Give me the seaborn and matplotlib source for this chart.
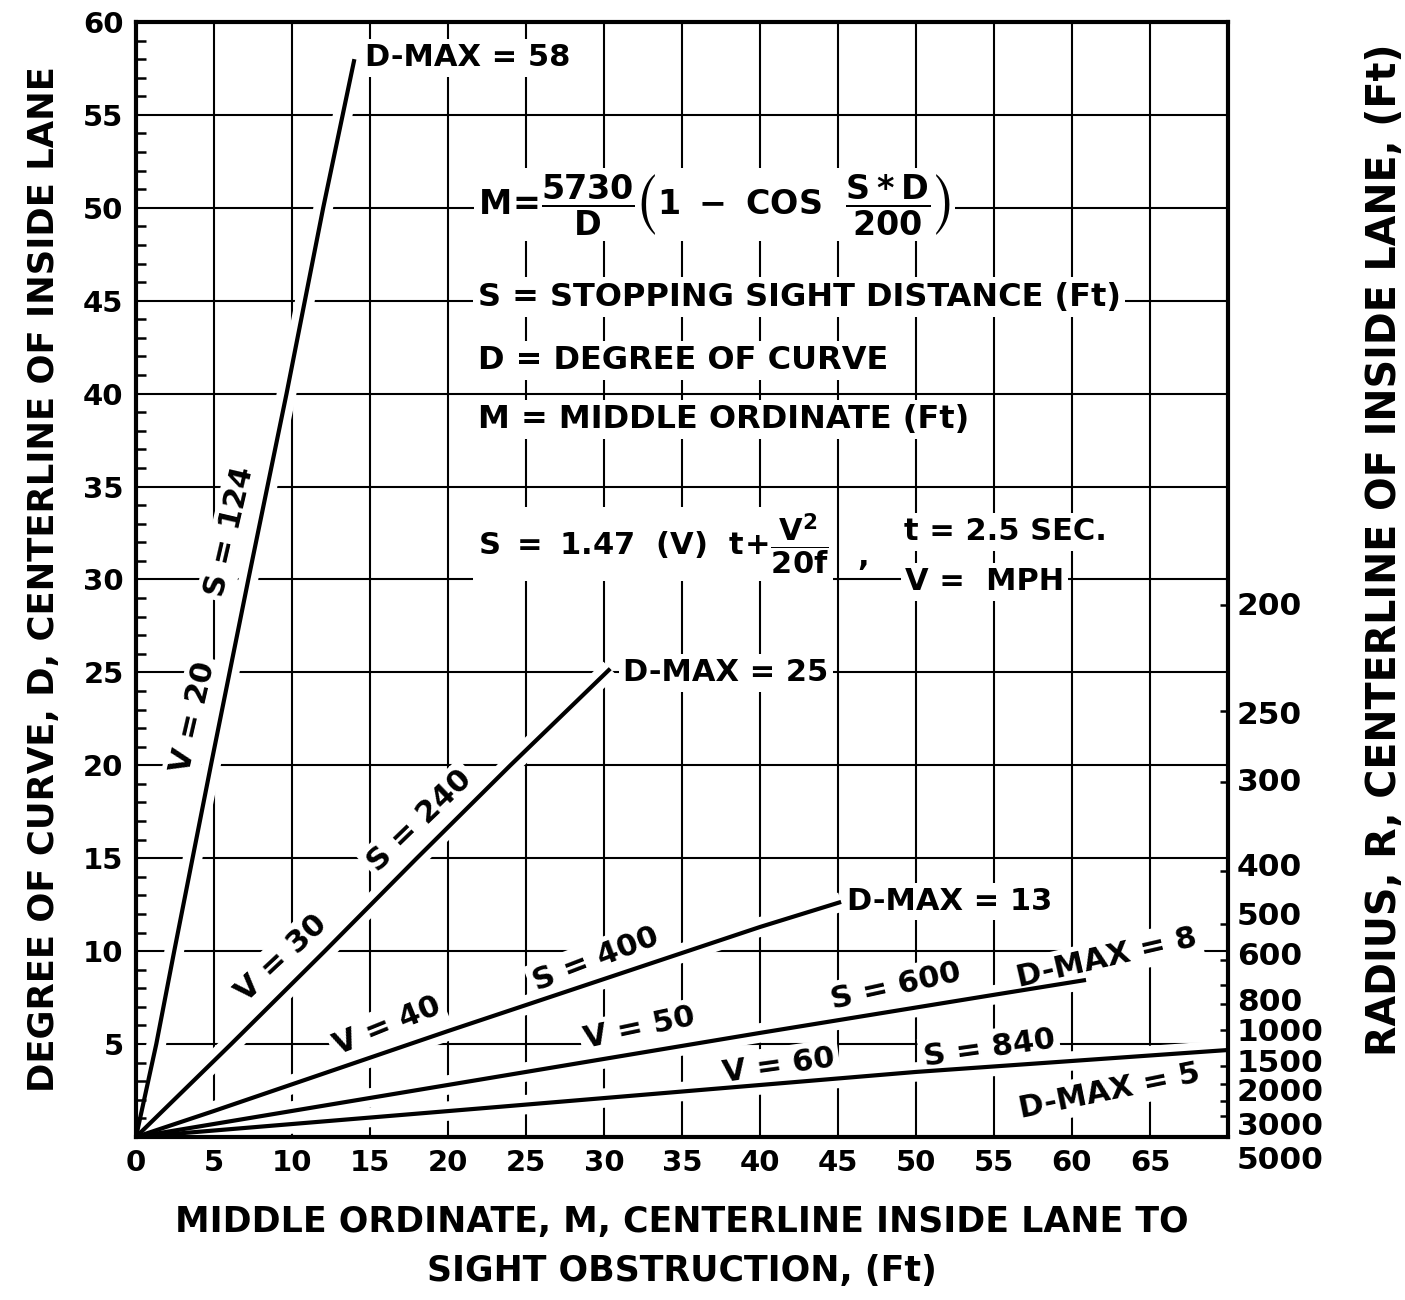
import matplotlib
matplotlib.use("Agg")
import matplotlib.pyplot as plt
import matplotlib.transforms as mtransforms
from matplotlib.ticker import MultipleLocator
import pandas as pd
import seaborn as sns

# ---------------- data ----------------
m_ticks = [0, 5, 10, 15, 20, 25, 30, 35, 40, 45, 50, 55, 60, 65]
d_ticks = [5, 10, 15, 20, 25, 30, 35, 40, 45, 50, 55, 60]
radius_ticks = [200, 250, 300, 400, 500, 600, 700, 800, 1000, 1500, 2000, 3000, 5000]
radius_labels = ["200", "250", "300", "400", "500", "600", "800",
                 "1000", "1500", "2000", "3000", "5000"]

speeds = [20, 30, 40, 50, 60]
sight_dist = [124, 240, 400, 600, 840]
d_max = [58, 25, 13, 8, 5]

v20_m = [0, 1.3, 2.45, 4.8, 7.2, 9.65, 12.0, 14.0]
v20_d = [0, 5, 10, 20, 30, 40, 50, 58]
v30_m = [0, 6.1, 12.1, 18.0, 24.0, 30.4]
v30_d = [0, 5, 10, 15, 20, 25.2]
v40_m = [0, 5, 20, 30, 40, 45.2]
v40_d = [0, 1.4, 5.7, 8.5, 11.3, 12.65]
v50_m = [0, 20, 40, 55, 60.9]
v50_d = [0, 2.8, 5.6, 7.65, 8.45]
v60_m = [0, 23.4, 50, 70]
v60_d = [0, 1.63, 3.5, 4.68]

curve_m = [v20_m, v30_m, v40_m, v50_m, v60_m]
curve_d = [v20_d, v30_d, v40_d, v50_d, v60_d]

rows = []
for v, ms, ds in zip(speeds, curve_m, curve_d):
    for m, d in zip(ms, ds):
        rows.append({"V": v, "M": m, "D": d})
df = pd.DataFrame(rows)

# ---------------- style ----------------
sns.set_theme(style="white")
plt.rcParams["font.family"] = ["DejaVu Sans"]
plt.rcParams["font.weight"] = "bold"
plt.rcParams["axes.labelweight"] = "bold"
plt.rcParams["text.color"] = "black"
plt.rcParams["axes.labelcolor"] = "black"
plt.rcParams["xtick.color"] = "black"
plt.rcParams["ytick.color"] = "black"
plt.rcParams["mathtext.fontset"] = "dejavusans"
plt.rcParams["mathtext.default"] = "bf"

fig = plt.figure(figsize=(14.05, 13), dpi=100)
ax = fig.add_axes([0.0968, 0.1254, 0.7772, 0.8577])
ax.set_xlim(0, 70)
ax.set_ylim(0, 60)

# grid drawn as plain lines so the curves can break it (drafting style)
for v in m_ticks[1:]:
    ax.axvline(v, color="black", lw=1.5, zorder=1)
for d in d_ticks[:-1]:
    ax.axhline(d, color="black", lw=1.5, zorder=1)

# white halo under every curve (breaks the grid), then the curves themselves
sns.lineplot(data=df, x="M", y="D", units="V", estimator=None, sort=False,
             color="white", lw=14, ax=ax, legend=False, zorder=1.8)
sns.lineplot(data=df, x="M", y="D", units="V", estimator=None, sort=False,
             color="black", lw=3.0, ax=ax, legend=False, zorder=2)
for ln in ax.lines:
    ln.set_solid_capstyle("butt")

ax.set_axisbelow(False)
for s in ax.spines.values():
    s.set_linewidth(3.0)
    s.set_color("black")
    s.set_zorder(2.6)

ax.set_xticks(m_ticks)
ax.set_xticklabels([str(t) for t in m_ticks])
ax.set_yticks(d_ticks)
ax.set_yticklabels([str(t) for t in d_ticks])
ax.yaxis.set_minor_locator(MultipleLocator(1))
ax.tick_params(axis="both", which="major", length=0, labelsize=21, pad=9)
ax.tick_params(axis="y", which="minor", direction="in", length=7.5, width=1.8,
               left=True, color="black")
for lab in ax.get_xticklabels() + ax.get_yticklabels():
    lab.set_fontweight("bold")

ax.set_xlabel("MIDDLE ORDINATE, M, CENTERLINE INSIDE LANE TO\nSIGHT OBSTRUCTION, (Ft)",
              fontsize=25, fontweight="bold", labelpad=20, linespacing=1.55)
ax.set_ylabel("DEGREE OF CURVE, D, CENTERLINE OF INSIDE LANE",
              fontsize=25.5, fontweight="bold", labelpad=16)

# right radius axis
ax2 = ax.twinx()
ax2.set_ylim(0, 60)
ax2.set_yticks([5730.0 / r for r in radius_ticks])
ax2.set_yticklabels([])
ax2.tick_params(axis="y", direction="in", length=6, width=1.8, right=True, color="black")
for s in ax2.spines.values():
    s.set_visible(False)
ax2.grid(False)

radius_label_y = [28.53, 22.7, 19.05, 14.5, 11.84, 9.69, 7.21, 5.6, 3.98, 2.37, 0.54, -1.24]
btrans = mtransforms.blended_transform_factory(ax.transAxes, ax.transData)
for lab, y in zip(radius_labels, radius_label_y):
    ax.text(1.008, y, lab, transform=btrans, ha="left", va="center",
            fontsize=22.5, fontweight="bold", clip_on=False)

fig.text(1385 / 1405, 1 - 550 / 1300, "RADIUS, R, CENTERLINE OF INSIDE LANE, (Ft)",
         rotation=90, ha="center", va="center", fontsize=28.5, fontweight="bold")

# ---------------- annotations ----------------
box = dict(facecolor="white", edgecolor="none", pad=3)

def note(x, y, s, rot=0, ha="center", va="center", size=22):
    ax.text(x, y, s, rotation=rot, rotation_mode="anchor", ha=ha, va=va,
            fontsize=size, fontweight="bold", bbox=box, zorder=1.9)

# labels along curves
note(6.0, 32.6, f"S = {sight_dist[0]}", rot=77)
note(3.65, 22.6, f"V = {speeds[0]}", rot=77)
note(18.2, 17.0, f"S = {sight_dist[1]}", rot=44)
note(9.3, 9.6, f"V = {speeds[1]}", rot=43)
note(29.45, 9.55, f"S = {sight_dist[2]}", rot=21)
note(16.1, 6.0, f"V = {speeds[2]}", rot=22)
note(48.7, 8.1, f"S = {sight_dist[3]}", rot=12.5)
note(32.3, 5.85, f"V = {speeds[3]}", rot=12)
note(54.7, 4.78, f"S = {sight_dist[4]}", rot=8)
note(41.2, 3.85, f"V = {speeds[4]}", rot=8)

note(14.65, 58.07, f"D-MAX = {d_max[0]}", ha="left")
note(31.25, 24.97, f"D-MAX = {d_max[1]}", ha="left")
note(45.6, 12.66, f"D-MAX = {d_max[2]}", ha="left")
note(62.25, 9.63, f"D-MAX = {d_max[3]}", rot=13)
note(62.4, 2.48, f"D-MAX = {d_max[4]}", rot=11.5)

# formula block
note(21.9, 50.2,
     r"$\mathbf{M\!=\!}\dfrac{\mathbf{5730}}{\mathbf{D}}\left(\mathbf{1\ -\ COS}\ \ \dfrac{\mathbf{S*D}}{\mathbf{200}}\right)$",
     ha="left", size=24)
note(21.9, 45.2, "S = STOPPING SIGHT DISTANCE (Ft)", ha="left", size=23)
note(21.9, 41.8, "D = DEGREE OF CURVE", ha="left", size=23)
note(21.9, 38.6, "M = MIDDLE ORDINATE (Ft)", ha="left", size=23)
note(21.9, 31.9,
     r"$\mathbf{S\ =\ 1.47\ \ (V)\ \ t\!+\!}\dfrac{\mathbf{V}^{\mathbf{2}}}{\mathbf{20f}}$",
     ha="left", size=22)
note(46.6, 31.2, ",", ha="center")
note(49.2, 32.56, "t = 2.5 SEC.", ha="left")
note(49.3, 29.87, "V =  MPH", ha="left")

fig.savefig("out.png", dpi=100)
